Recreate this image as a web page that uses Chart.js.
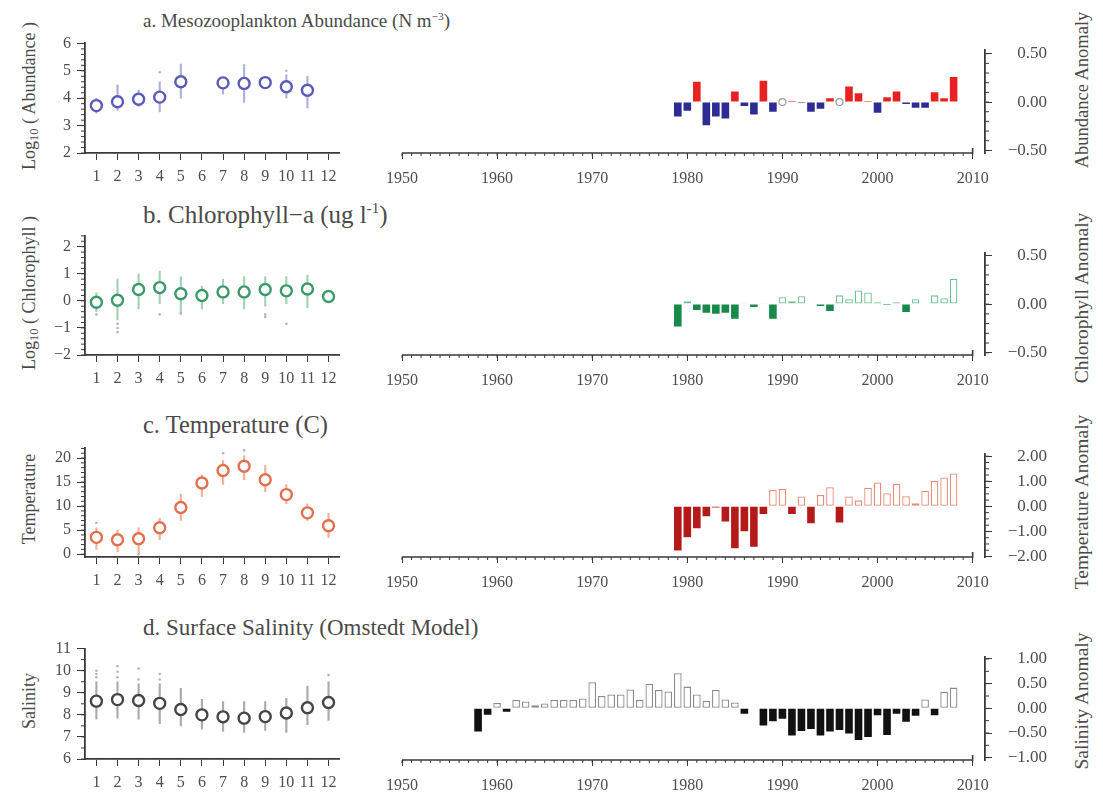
<!DOCTYPE html>
<html>
<head>
<meta charset="utf-8">
<script src="https://cdn.jsdelivr.net/npm/chart.js@4.4.1/dist/chart.umd.min.js"></script>
<style>
  body { margin: 0; background: #fff; }
  #page { position: relative; width: 1103px; height: 798px; overflow: hidden; font-family: 'Liberation Serif', serif; color: #4a4a4a; }
  canvas { position: absolute; }
  .title { position: absolute; left: 143px; line-height: 1; white-space: nowrap; }
  .title sup { font-size: 0.6em; vertical-align: 0.65em; line-height: 0; }
  .ltitle, .rtitle { position: absolute; line-height: 1; white-space: nowrap; transform: translate(-50%, -50%) rotate(-90deg); }
  .ltitle { left: 29px; font-size: 18px; }
  .ltitle sub { font-size: 0.7em; vertical-align: -0.2em; line-height: 0; }
  .rtitle { left: 1082px; font-size: 19.5px; }
</style>
</head>
<body>
<div id="page">
  <div class="title" style="top:11px;font-size:19px">a. Mesozooplankton Abundance (N m<sup>−3</sup>)</div>
  <div class="title" style="top:202px;font-size:25px">b. Chlorophyll−a (ug l<sup>-1</sup>)</div>
  <div class="title" style="top:413px;font-size:24.5px">c. Temperature (C)</div>
  <div class="title" style="top:616px;font-size:23px">d. Surface Salinity (Omstedt Model)</div>

  <div class="ltitle" style="top:96px">Log<sub>10</sub> ( Abundance )</div>
  <div class="ltitle" style="top:293px">Log<sub>10</sub> ( Chlorophyll )</div>
  <div class="ltitle" style="top:499px">Temperature</div>
  <div class="ltitle" style="top:701px">Salinity</div>

  <div class="rtitle" style="top:90px;font-size:18.5px">Abundance Anomaly</div>
  <div class="rtitle" style="top:298px">Chlorophyll Anomaly</div>
  <div class="rtitle" style="top:502px">Temperature Anomaly</div>
  <div class="rtitle" style="top:701px">Salinity Anomaly</div>

  <canvas id="aL" width="347" height="162" style="left:0;top:27px"></canvas>
  <canvas id="aR" width="671" height="163" style="left:376px;top:26px"></canvas>
  <canvas id="bL" width="347" height="171" style="left:0;top:220px"></canvas>
  <canvas id="bR" width="671" height="162" style="left:376px;top:229px"></canvas>
  <canvas id="cL" width="347" height="161" style="left:0;top:432px"></canvas>
  <canvas id="cR" width="671" height="163" style="left:376px;top:430px"></canvas>
  <canvas id="dL" width="347" height="162" style="left:0;top:633px"></canvas>
  <canvas id="dR" width="671" height="163" style="left:376px;top:633px"></canvas>
</div>

<script>
// monthly climatology, left panels
const months = [1, 2, 3, 4, 5, 6, 7, 8, 9, 10, 11, 12];

const abunMean = [3.73, 3.87, 3.96, 4.04, 4.60, null, 4.56, 4.54, 4.57, 4.42, 4.29, null];
const abunLo   = [3.45, 3.55, 3.70, 3.50, 4.00, null, 4.15, 3.85, 4.40, 4.00, 3.65, null];
const abunHi   = [4.00, 4.40, 4.30, 4.60, 5.25, null, 4.75, 5.15, 4.70, 4.85, 4.80, null];
const abunDots = [[2, 4.45], [4, 4.95], [8, 5.2], [10, 5.0]];

const chlMean = [-0.05, 0.02, 0.42, 0.49, 0.26, 0.20, 0.33, 0.33, 0.42, 0.37, 0.44, 0.16];
const chlLo   = [-0.40, -0.70, -0.30, -0.10, -0.50, -0.30, -0.10, -0.30, -0.20, -0.10, -0.25, null];
const chlHi   = [0.30, 0.80, 1.00, 1.10, 0.90, 0.55, 0.80, 0.90, 0.90, 0.90, 0.95, null];
const chlDots = [[1, -0.5], [2, -0.85], [2, -1.0], [2, -1.15], [4, -0.5], [5, -0.45], [9, -0.5], [9, -0.6], [10, -0.85]];

const tempMean = [3.5, 3.0, 3.2, 5.5, 9.7, 14.8, 17.4, 18.3, 15.5, 12.4, 8.6, 5.9];
const tempLo   = [1.0, 0.5, 0.3, 3.0, 7.0, 12.0, 14.5, 15.5, 13.0, 10.5, 7.0, 3.5];
const tempHi   = [5.5, 5.0, 5.5, 7.5, 12.5, 16.5, 19.5, 20.5, 18.5, 14.5, 10.5, 8.5];
const tempDots = [[1, 6.5], [3, 0], [7, 21], [8, 21.6]];

const salMean = [8.62, 8.69, 8.65, 8.52, 8.24, 8.00, 7.91, 7.85, 7.92, 8.08, 8.32, 8.56];
const salLo   = [7.80, 7.85, 7.80, 7.60, 7.50, 7.35, 7.25, 7.20, 7.30, 7.20, 7.55, 7.75];
const salHi   = [9.50, 9.50, 9.40, 9.40, 9.20, 8.70, 8.60, 8.60, 8.60, 8.75, 9.30, 9.50];
const salDots = [[1, 9.7], [1, 9.85], [1, 10.0], [2, 9.7], [2, 9.95], [2, 10.2], [3, 9.6], [3, 10.1], [4, 9.6], [4, 9.85], [12, 9.8]];

// yearly anomalies, right panels
const years79 = [1979, 1980, 1981, 1982, 1983, 1984, 1985, 1986, 1987, 1988, 1989, 1990, 1991, 1992, 1993,
                 1994, 1995, 1996, 1997, 1998, 1999, 2000, 2001, 2002, 2003, 2004, 2005, 2006, 2007, 2008];
const years58 = [1958, 1959, 1960, 1961, 1962, 1963, 1964, 1965, 1966, 1967, 1968, 1969, 1970, 1971, 1972,
                 1973, 1974, 1975, 1976, 1977, 1978, 1979, 1980, 1981, 1982, 1983, 1984, 1985, 1986, 1987,
                 1988, 1989, 1990, 1991, 1992, 1993, 1994, 1995, 1996, 1997, 1998, 1999, 2000, 2001, 2002,
                 2003, 2004, 2005, 2006, 2007, 2008];

const abunAnom = [-0.15, -0.09, 0.21, -0.24, -0.15, -0.17, 0.11, -0.04, -0.13, 0.22, -0.10, null, 0.01, -0.01, -0.10,
                  -0.07, 0.04, null, 0.16, 0.09, 0.01, -0.11, 0.05, 0.11, -0.02, -0.06, -0.06, 0.10, 0.04, 0.26];
const abunMissing = [1990, 1996];

const chlAnom = [-0.23, 0.03, -0.06, -0.09, -0.10, -0.09, -0.15, 0.01, -0.03, 0.01, -0.15, 0.07, 0.03, 0.08, 0.005,
                 -0.02, -0.07, 0.09, 0.05, 0.14, 0.12, 0.02, -0.01, 0.02, -0.08, 0.05, 0.005, 0.09, 0.06, 0.26];

const tempAnom = [-1.76, -1.23, -0.87, -0.39, -0.05, -0.60, -1.67, -0.99, -1.61, -0.31, 0.65, 0.69, -0.31, 0.39, -0.67,
                  0.45, 0.76, -0.64, 0.39, 0.24, 0.74, 0.95, 0.52, 0.89, 0.40, 0.12, 0.62, 1.01, 1.15, 1.31];

const salAnom = [-0.47, -0.13, 0.11, -0.07, 0.17, 0.14, 0.06, 0.10, 0.17, 0.17, 0.17, 0.20, 0.53, 0.25, 0.28,
                 0.28, 0.38, 0.17, 0.50, 0.37, 0.34, 0.71, 0.44, 0.28, 0.15, 0.37, 0.18, 0.12, -0.11, -0.01,
                 -0.35, -0.26, -0.21, -0.55, -0.46, -0.42, -0.55, -0.47, -0.44, -0.51, -0.64, -0.58, -0.14, -0.54, -0.11,
                 -0.27, -0.15, 0.18, -0.14, 0.33, 0.42];

// tick labels
const decades = [1950, 1960, 1970, 1980, 1990, 2000, 2010];
const abunTicks = [2, 3, 4, 5, 6];
const chlTicks = [-2, -1, 0, 1, 2];
const tempTicks = [0, 5, 10, 15, 20];
const salTicks = [6, 7, 8, 9, 10, 11];
const anomTicksHalf = [-0.5, 0, 0.5];
const anomTicksTemp = [-2, -1, 0, 1, 2];
const anomTicksSal = [-1, -0.5, 0, 0.5, 1];

Chart.defaults.font.family = "'Liberation Serif', 'Times New Roman', serif";
Chart.defaults.font.size = 16;
Chart.defaults.color = '#4d4d4d';
const AXIS = '#3a3a3a';

const minus = v => (v < 0 ? '\u2212' : '');

// small ticks between the labelled ones, plus the year axis line that stops at 2010
function decor(minor, baseline) {
  return {
    id: 'decor',
    afterDraw(chart) {
      const ctx = chart.ctx;
      ctx.save();
      ctx.strokeStyle = AXIS;
      ctx.lineWidth = 1;
      minor.forEach(m => {
        const s = chart.scales[m.id];
        const lo = m.range ? m.range[0] : s.min, hi = m.range ? m.range[1] : s.max;
        const n0 = Math.ceil(lo / m.step - 1e-6), n1 = Math.floor(hi / m.step + 1e-6);
        ctx.beginPath();
        for (let n = n0; n <= n1; n++) {
          const p = s.getPixelForValue(n * m.step);
          if (s.position === 'left') { ctx.moveTo(s.right, p); ctx.lineTo(s.right - m.len, p); }
          else if (s.position === 'right') { ctx.moveTo(s.left, p); ctx.lineTo(s.left + m.len, p); }
          else { ctx.moveTo(p, s.top); ctx.lineTo(p, s.top + m.len); }
        }
        ctx.stroke();
      });
      if (baseline) {
        const x = chart.scales.x, y0 = chart.chartArea.bottom;
        const a = x.getPixelForValue(baseline[0]), b = x.getPixelForValue(baseline[1]);
        ctx.lineWidth = 1.6;
        ctx.beginPath();
        ctx.moveTo(a, y0); ctx.lineTo(b, y0); ctx.lineTo(b, y0 - 5);
        ctx.stroke();
      }
      ctx.restore();
    }
  };
}

function leftPanel(id, c) {
  const meanPts = [], whisk = [];
  months.forEach((m, i) => {
    if (c.mean[i] !== null) meanPts.push({x: m, y: c.mean[i]});
    if (c.lo[i] !== null) whisk.push({x: m, y: [c.lo[i], c.hi[i]]});
  });
  new Chart(document.getElementById(id), {
    type: 'scatter',
    data: {
      datasets: [
        { type: 'scatter', data: meanPts, pointRadius: 5.5, borderWidth: 2.4,
          backgroundColor: '#fff', borderColor: c.color, order: 0 },
        { type: 'scatter', data: c.dots.map(d => ({x: d[0], y: d[1]})), pointRadius: 1.3, borderWidth: 0,
          backgroundColor: '#b5b5b5', order: 1 },
        { type: 'bar', data: whisk, backgroundColor: c.whisker, barThickness: 1.5, grouped: false, order: 2 }
      ]
    },
    options: {
      responsive: false, animation: false, events: [],
      layout: { padding: { top: 10, left: 0, right: 0, bottom: 0 } },
      plugins: { legend: { display: false }, tooltip: { enabled: false } },
      scales: {
        x: {
          type: 'linear', min: 0.46, max: 12.5, offset: false,
          afterFit: s => { s.height = 36; },
          afterBuildTicks: s => { s.ticks = months.map(v => ({value: v})); },
          grid: { drawOnChartArea: false, tickLength: 7, color: AXIS, offset: false },
          border: { color: AXIS, width: 1.8 },
          ticks: { padding: 7, autoSkip: false, maxRotation: 0, callback: v => String(v) }
        },
        y: {
          min: c.yMin, max: c.yMax,
          afterFit: s => { s.width = 85; },
          afterBuildTicks: s => { s.ticks = c.ticks.map(v => ({value: v})); },
          grid: { drawOnChartArea: false, tickLength: 8, color: AXIS },
          border: { color: AXIS, width: 1.8 },
          ticks: { padding: 6, autoSkip: false, callback: v => minus(v) + Math.abs(v) }
        }
      }
    },
    plugins: [decor([{ id: 'y', step: c.minor, len: 4 }], null)]
  });
}

function rightPanel(id, c) {
  const pos = c.years.map((y, i) => ({x: y, y: c.anom[i] !== null && c.anom[i] > 0 ? c.anom[i] : null}));
  const neg = c.years.map((y, i) => ({x: y, y: c.anom[i] !== null && c.anom[i] < 0 ? c.anom[i] : null}));
  const datasets = [
    { type: 'bar', data: pos, grouped: false, barPercentage: 0.8, categoryPercentage: 1,
      backgroundColor: c.open ? '#fff' : c.pos, borderColor: c.pos, borderWidth: c.open ? 1.3 : 0,
      borderSkipped: false, order: 2 },
    { type: 'bar', data: neg, grouped: false, barPercentage: 0.8, categoryPercentage: 1,
      backgroundColor: c.neg, borderWidth: 0, order: 1 }
  ];
  if (c.missing) {
    datasets.push({ type: 'scatter', data: c.missing.map(y => ({x: y, y: 0})), pointRadius: 3.5, borderWidth: 1.2,
      backgroundColor: '#fff', borderColor: '#9a9a9a', order: 0 });
  }
  new Chart(document.getElementById(id), {
    type: 'scatter',
    data: { datasets },
    options: {
      responsive: false, animation: false, events: [],
      layout: { padding: { top: 10, left: 20, right: 0, bottom: 0 } },
      plugins: { legend: { display: false }, tooltip: { enabled: false } },
      scales: {
        x: {
          type: 'linear', min: 1950, max: 2011.3, offset: false,
          afterFit: s => { s.height = 36; },
          afterBuildTicks: s => { s.ticks = decades.map(v => ({value: v})); },
          grid: { drawOnChartArea: false, tickLength: 6, color: AXIS, offset: false },
          border: { display: false },
          ticks: { padding: 10, autoSkip: false, maxRotation: 0, callback: v => String(v) }
        },
        y: {
          position: 'right', min: c.yMin, max: c.yMax,
          afterFit: s => { s.width = 62; },
          afterBuildTicks: s => { s.ticks = c.ticks.map(v => ({value: v})); },
          grid: { drawOnChartArea: false, tickLength: 7, color: AXIS },
          border: { color: AXIS, width: 1.8 },
          ticks: { padding: 14, autoSkip: false, crossAlign: 'far', font: { size: 17 },
                   callback: v => minus(v) + Math.abs(v).toFixed(2) }
        }
      }
    },
    plugins: [decor([{ id: 'x', step: 1, len: 3, range: [1950, 2010] }, { id: 'y', step: c.minor, len: 4 }], [1950, 2010])]
  });
}

leftPanel('aL', { mean: abunMean, lo: abunLo, hi: abunHi, dots: abunDots, ticks: abunTicks, yMin: 2, yMax: 6.03,
  minor: 0.2, color: '#5a5ab8', whisker: '#b0b0dc' });
leftPanel('bL', { mean: chlMean, lo: chlLo, hi: chlHi, dots: chlDots, ticks: chlTicks, yMin: -2, yMax: 2.41,
  minor: 0.2, color: '#3a9a68', whisker: '#a4d2b8' });
leftPanel('cL', { mean: tempMean, lo: tempLo, hi: tempHi, dots: tempDots, ticks: tempTicks, yMin: -0.59, yMax: 22.18,
  minor: 1, color: '#e2704e', whisker: '#efb19c' });
leftPanel('dL', { mean: salMean, lo: salLo, hi: salHi, dots: salDots, ticks: salTicks, yMin: 6, yMax: 11,
  minor: 0.5, color: '#454545', whisker: '#ababab' });

rightPanel('aR', { years: years79, anom: abunAnom, missing: abunMissing, ticks: anomTicksHalf, yMin: -0.527, yMax: 0.536,
  minor: 0.1, open: false, pos: '#e82222', neg: '#2c2c94' });
rightPanel('bR', { years: years79, anom: chlAnom, ticks: anomTicksHalf, yMin: -0.523, yMax: 0.523,
  minor: 0.1, open: true, pos: '#6fbf90', neg: '#17894b' });
rightPanel('cR', { years: years79, anom: tempAnom, ticks: anomTicksTemp, yMin: -2.02, yMax: 2.08,
  minor: 0.25, open: true, pos: '#e58b78', neg: '#b51a1a' });
rightPanel('dR', { years: years58, anom: salAnom, ticks: anomTicksSal, yMin: -1.047, yMax: 1.036,
  minor: 0.25, open: true, pos: '#8a8a8a', neg: '#111111' });
</script>
</body>
</html>
